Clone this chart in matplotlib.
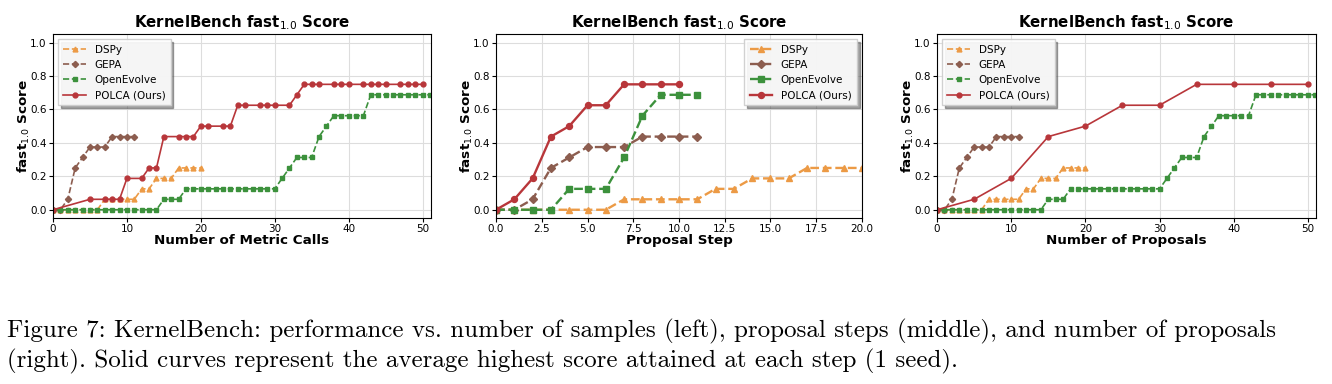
import numpy as np
import matplotlib.pyplot as plt

# data (scores are multiples of 1/16)
dspy_x = list(range(0, 21))
dspy_y = [0, 0, 0, 0, 0, 0, 0, 0.0625, 0.0625, 0.0625, 0.0625, 0.0625,
          0.125, 0.125, 0.1875, 0.1875, 0.1875, 0.25, 0.25, 0.25, 0.25]

gepa_x = list(range(0, 12))
gepa_y = [0, 0, 0.0625, 0.25, 0.3125, 0.375, 0.375, 0.375,
          0.4375, 0.4375, 0.4375, 0.4375]

# OpenEvolve, per metric call / proposal
oe_x = list(range(0, 52))
oe_y = ([0] * 15 + [0.0625] * 3 + [0.125] * 13 + [0.1875, 0.25]
        + [0.3125] * 3 + [0.4375, 0.5] + [0.5625] * 5 + [0.6875] * 9)

# OpenEvolve, per proposal step
oe_step_x = list(range(0, 12))
oe_step_y = [0, 0, 0, 0, 0.125, 0.125, 0.125, 0.3125, 0.5625, 0.6875, 0.6875, 0.6875]

# POLCA, per metric call
polca_calls_x = [0, 5, 7, 8, 9, 10, 12, 13, 14, 15, 17, 18, 19, 20, 21, 23, 24, 25, 26,
                 28, 29, 30, 32, 33, 34, 35, 36, 38, 39, 40, 42, 43, 44, 45, 47, 48, 49, 50]
polca_calls_y = [0, 0.0625, 0.0625, 0.0625, 0.0625, 0.1875, 0.1875, 0.25, 0.25, 0.4375,
                 0.4375, 0.4375, 0.4375, 0.5, 0.5, 0.5, 0.5, 0.625, 0.625, 0.625, 0.625,
                 0.625, 0.625, 0.6875] + [0.75] * 14

# POLCA, per proposal step
polca_step_x = list(range(0, 11))
polca_step_y = [0, 0.0625, 0.1875, 0.4375, 0.5, 0.625, 0.625, 0.75, 0.75, 0.75, 0.75]

# POLCA, per proposal
polca_prop_x = [0, 5, 10, 15, 20, 25, 30, 35, 40, 45, 50]
polca_prop_y = polca_step_y

c_dspy = '#ec9a45'
c_gepa = '#8c5d4f'
c_oe = '#3c913c'
c_polca = '#b8363a'

title = r'KernelBench fast$_{1.0}$ Score'
ylab = r'fast$_{1.0}$ Score'

fig = plt.figure(figsize=(13.32, 3.84), dpi=100)
axes = [fig.add_axes([0.0398, 0.432, 0.2835, 0.479]),
        fig.add_axes([0.3724, 0.432, 0.2747, 0.479]),
        fig.add_axes([0.7035, 0.432, 0.2845, 0.479])]

panels = [
    (polca_calls_x, polca_calls_y, oe_x, oe_y, 'Number of Metric Calls', (0, 51.1), 'upper left', 1.2, 3.5),
    (polca_step_x, polca_step_y, oe_step_x, oe_step_y, 'Proposal Step', (0, 20), 'upper right', 1.7, 4.3),
    (polca_prop_x, polca_prop_y, oe_x, oe_y, 'Number of Proposals', (0, 51.1), 'upper left', 1.2, 3.5),
]

for ax, (px, py, ox, oy, xlab, xl, loc, lw, ms) in zip(axes, panels):
    ax.plot(dspy_x, dspy_y, '--', marker='^', color=c_dspy, lw=lw, ms=ms, label='DSPy')
    ax.plot(gepa_x, gepa_y, '--', marker='D', color=c_gepa, lw=lw, ms=ms * 0.9, label='GEPA')
    ax.plot(ox, oy, '--', marker='s', color=c_oe, lw=lw, ms=ms, label='OpenEvolve')
    ax.plot(px, py, '-', marker='o', color=c_polca, lw=lw, ms=ms, label='POLCA (Ours)')
    ax.set_xlim(*xl)
    ax.set_ylim(-0.05, 1.05)
    ax.set_yticks([0, 0.2, 0.4, 0.6, 0.8, 1.0])
    ax.grid(True, color='#dddddd', lw=0.8)
    ax.set_axisbelow(True)
    ax.tick_params(labelsize=7.5, length=3, pad=1.5)
    ax.set_title(title, fontsize=10.8, fontweight='bold', pad=5)
    ax.set_xlabel(xlab, fontsize=9.7, fontweight='bold', labelpad=0)
    ax.set_ylabel(ylab, fontsize=9.7, fontweight='bold', labelpad=-1)
    ax.legend(loc=loc, fontsize=7.5, shadow=True, fancybox=False, framealpha=0.9,
              edgecolor='#cccccc', handlelength=2.2, borderpad=0.5, labelspacing=0.5)

cap1 = 'Figure 7: KernelBench: performance vs. number of samples (left), proposal steps (middle), and number of proposals'
cap2 = '(right). Solid curves represent the average highest score attained at each step (1 seed).'
fig.text(0.005, 0.12, cap1, fontsize=18, family='cmr10', va='baseline')
fig.text(0.005, 0.043, cap2, fontsize=18, family='cmr10', va='baseline')

fig.savefig('out.png', dpi=100)
